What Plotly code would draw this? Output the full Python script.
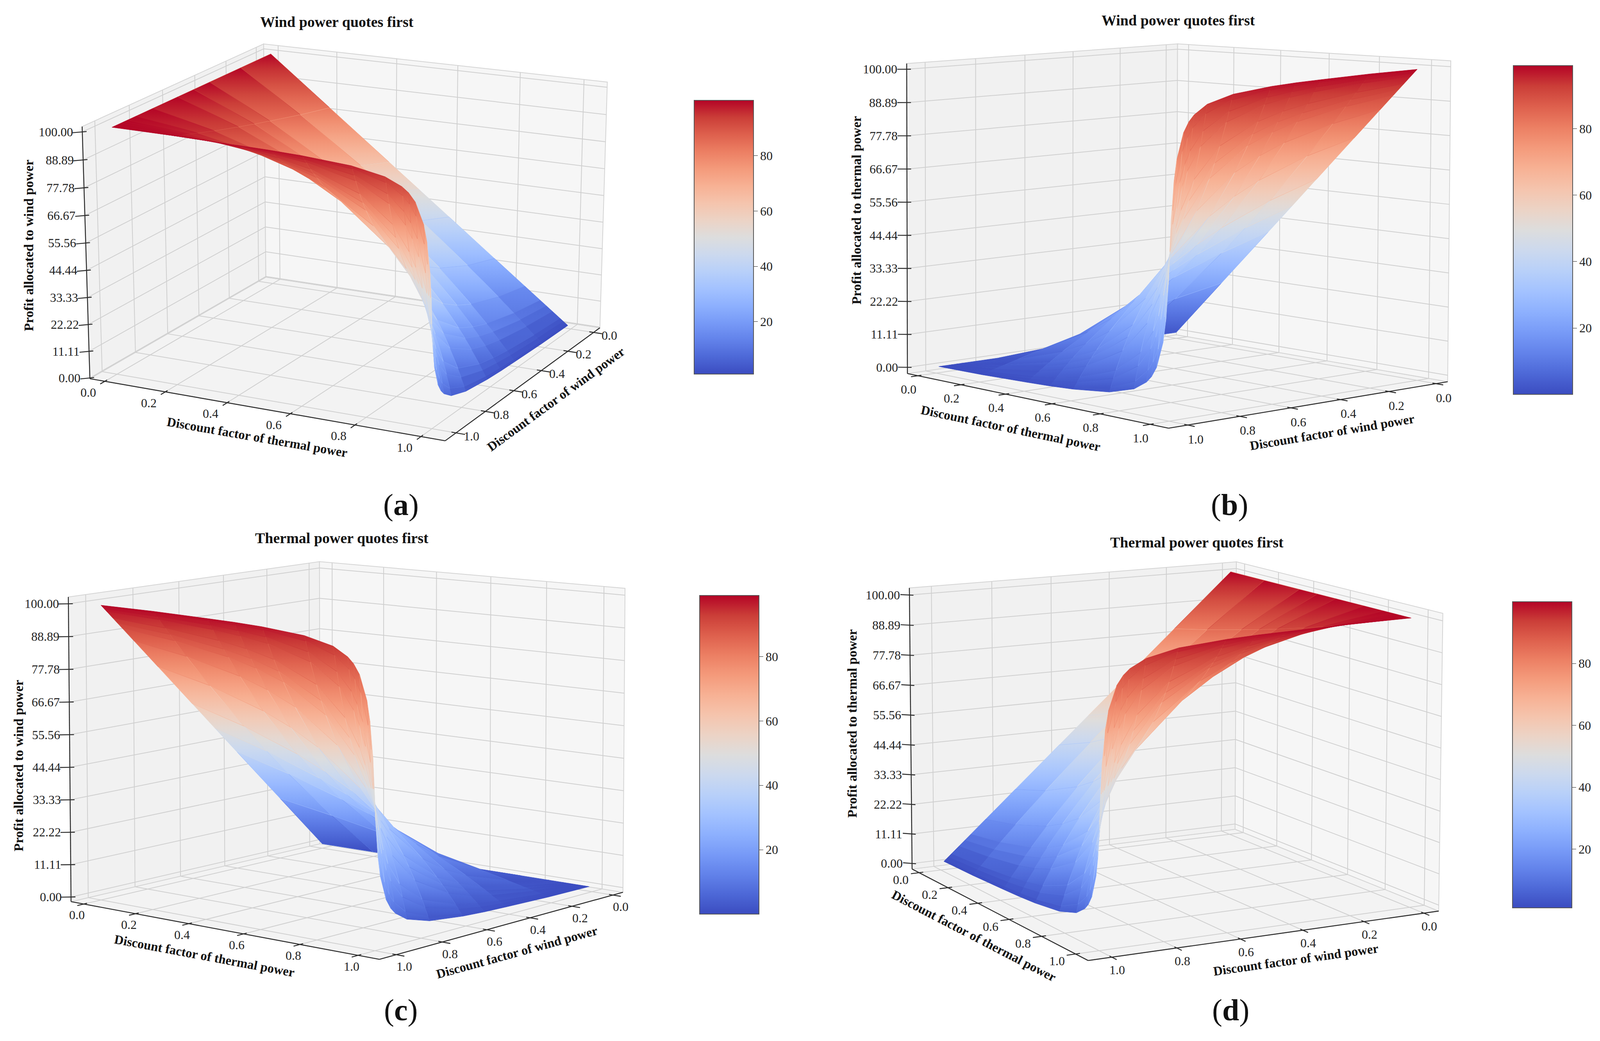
import numpy as np
import plotly.graph_objects as go

FIG_W, FIG_H = 4124, 2666

# discount factors sampled on both axes
thermal_df = [0.0, 0.2, 0.4, 0.5, 0.6, 0.75, 0.85, 0.9, 0.92, 0.94, 0.965, 0.975, 0.985, 0.99]
wind_df = [0.0, 0.2, 0.4, 0.5, 0.6, 0.75, 0.85, 0.9, 0.92, 0.94, 0.965, 0.975, 0.985, 0.99]

# profit shares, rows = wind discount factor, columns = thermal discount factor
wf_wind_profit = [
    [100.0, 80.0, 60.0, 50.0, 40.0, 25.0, 15.0, 10.0, 8.0, 6.0, 3.5, 2.5, 1.5, 1.0],
    [100.0, 83.3, 65.2, 55.6, 45.5, 29.4, 18.1, 12.2, 9.8, 7.4, 4.3, 3.1, 1.9, 1.2],
    [100.0, 87.0, 71.4, 62.5, 52.6, 35.7, 22.7, 15.6, 12.7, 9.6, 5.7, 4.1, 2.5, 1.7],
    [100.0, 88.9, 75.0, 66.7, 57.1, 40.0, 26.1, 18.2, 14.8, 11.3, 6.8, 4.9, 3.0, 2.0],
    [100.0, 90.9, 78.9, 71.4, 62.5, 45.5, 30.6, 21.7, 17.9, 13.8, 8.3, 6.0, 3.7, 2.5],
    [100.0, 94.1, 85.7, 80.0, 72.7, 57.1, 41.4, 30.8, 25.8, 20.3, 12.7, 9.3, 5.7, 3.9],
    [100.0, 96.4, 90.9, 87.0, 81.6, 69.0, 54.1, 42.6, 36.7, 29.9, 19.5, 14.6, 9.2, 6.3],
    [100.0, 97.6, 93.8, 90.9, 87.0, 76.9, 63.8, 52.6, 46.5, 39.0, 26.6, 20.4, 13.2, 9.2],
    [100.0, 98.0, 94.9, 92.6, 89.3, 80.6, 68.8, 58.1, 52.1, 44.4, 31.2, 24.3, 16.0, 11.2],
    [100.0, 98.5, 96.2, 94.3, 91.7, 84.7, 74.6, 64.9, 59.2, 51.5, 37.7, 29.9, 20.2, 14.4],
    [100.0, 99.1, 97.7, 96.6, 95.0, 90.5, 83.5, 76.1, 71.3, 64.6, 50.9, 42.3, 30.3, 22.4],
    [100.0, 99.4, 98.4, 97.6, 96.4, 93.0, 87.6, 81.6, 77.7, 71.9, 59.2, 50.6, 37.9, 28.8],
    [100.0, 99.6, 99.0, 98.5, 97.8, 95.7, 92.2, 88.1, 85.3, 81.0, 70.7, 63.1, 50.4, 40.2],
    [100.0, 99.8, 99.3, 99.0, 98.5, 97.1, 94.6, 91.7, 89.7, 86.5, 78.4, 71.9, 60.4, 50.3],
]
wf_thermal_profit = [
    [0.0, 20.0, 40.0, 50.0, 60.0, 75.0, 85.0, 90.0, 92.0, 94.0, 96.5, 97.5, 98.5, 99.0],
    [0.0, 16.7, 34.8, 44.4, 54.5, 70.6, 81.9, 87.8, 90.2, 92.6, 95.7, 96.9, 98.1, 98.8],
    [0.0, 13.0, 28.6, 37.5, 47.4, 64.3, 77.3, 84.4, 87.3, 90.4, 94.3, 95.9, 97.5, 98.3],
    [0.0, 11.1, 25.0, 33.3, 42.9, 60.0, 73.9, 81.8, 85.2, 88.7, 93.2, 95.1, 97.0, 98.0],
    [0.0, 9.1, 21.1, 28.6, 37.5, 54.5, 69.4, 78.3, 82.1, 86.2, 91.7, 94.0, 96.3, 97.5],
    [0.0, 5.9, 14.3, 20.0, 27.3, 42.9, 58.6, 69.2, 74.2, 79.7, 87.3, 90.7, 94.3, 96.1],
    [0.0, 3.6, 9.1, 13.0, 18.4, 31.0, 45.9, 57.4, 63.3, 70.1, 80.5, 85.4, 90.8, 93.7],
    [0.0, 2.4, 6.2, 9.1, 13.0, 23.1, 36.2, 47.4, 53.5, 61.0, 73.4, 79.6, 86.8, 90.8],
    [0.0, 2.0, 5.1, 7.4, 10.7, 19.4, 31.2, 41.9, 47.9, 55.6, 68.8, 75.7, 84.0, 88.8],
    [0.0, 1.5, 3.8, 5.7, 8.3, 15.3, 25.4, 35.1, 40.8, 48.5, 62.3, 70.1, 79.8, 85.6],
    [0.0, 0.9, 2.3, 3.4, 5.0, 9.5, 16.5, 23.9, 28.7, 35.4, 49.1, 57.7, 69.7, 77.6],
    [0.0, 0.6, 1.6, 2.4, 3.6, 7.0, 12.4, 18.4, 22.3, 28.1, 40.8, 49.4, 62.1, 71.2],
    [0.0, 0.4, 1.0, 1.5, 2.2, 4.3, 7.8, 11.9, 14.7, 19.0, 29.3, 36.9, 49.6, 59.8],
    [0.0, 0.2, 0.7, 1.0, 1.5, 2.9, 5.4, 8.3, 10.3, 13.5, 21.6, 28.1, 39.6, 49.7],
]
tf_wind_profit = [
    [0.0, 0.0, 0.0, 0.0, 0.0, 0.0, 0.0, 0.0, 0.0, 0.0, 0.0, 0.0, 0.0, 0.0],
    [20.0, 16.7, 13.0, 11.1, 9.1, 5.9, 3.6, 2.4, 2.0, 1.5, 0.9, 0.6, 0.4, 0.2],
    [40.0, 34.8, 28.6, 25.0, 21.1, 14.3, 9.1, 6.2, 5.1, 3.8, 2.3, 1.6, 1.0, 0.7],
    [50.0, 44.4, 37.5, 33.3, 28.6, 20.0, 13.0, 9.1, 7.4, 5.7, 3.4, 2.4, 1.5, 1.0],
    [60.0, 54.5, 47.4, 42.9, 37.5, 27.3, 18.4, 13.0, 10.7, 8.3, 5.0, 3.6, 2.2, 1.5],
    [75.0, 70.6, 64.3, 60.0, 54.5, 42.9, 31.0, 23.1, 19.4, 15.3, 9.5, 7.0, 4.3, 2.9],
    [85.0, 81.9, 77.3, 73.9, 69.4, 58.6, 45.9, 36.2, 31.2, 25.4, 16.5, 12.4, 7.8, 5.4],
    [90.0, 87.8, 84.4, 81.8, 78.3, 69.2, 57.4, 47.4, 41.9, 35.1, 23.9, 18.4, 11.9, 8.3],
    [92.0, 90.2, 87.3, 85.2, 82.1, 74.2, 63.3, 53.5, 47.9, 40.8, 28.7, 22.3, 14.7, 10.3],
    [94.0, 92.6, 90.4, 88.7, 86.2, 79.7, 70.1, 61.0, 55.6, 48.5, 35.4, 28.1, 19.0, 13.5],
    [96.5, 95.7, 94.3, 93.2, 91.7, 87.3, 80.5, 73.4, 68.8, 62.3, 49.1, 40.8, 29.3, 21.6],
    [97.5, 96.9, 95.9, 95.1, 94.0, 90.7, 85.4, 79.6, 75.7, 70.1, 57.7, 49.4, 36.9, 28.1],
    [98.5, 98.1, 97.5, 97.0, 96.3, 94.3, 90.8, 86.8, 84.0, 79.8, 69.7, 62.1, 49.6, 39.6],
    [99.0, 98.8, 98.3, 98.0, 97.5, 96.1, 93.7, 90.8, 88.8, 85.6, 77.6, 71.2, 59.8, 49.7],
]
tf_thermal_profit = [
    [100.0, 100.0, 100.0, 100.0, 100.0, 100.0, 100.0, 100.0, 100.0, 100.0, 100.0, 100.0, 100.0, 100.0],
    [80.0, 83.3, 87.0, 88.9, 90.9, 94.1, 96.4, 97.6, 98.0, 98.5, 99.1, 99.4, 99.6, 99.8],
    [60.0, 65.2, 71.4, 75.0, 78.9, 85.7, 90.9, 93.8, 94.9, 96.2, 97.7, 98.4, 99.0, 99.3],
    [50.0, 55.6, 62.5, 66.7, 71.4, 80.0, 87.0, 90.9, 92.6, 94.3, 96.6, 97.6, 98.5, 99.0],
    [40.0, 45.5, 52.6, 57.1, 62.5, 72.7, 81.6, 87.0, 89.3, 91.7, 95.0, 96.4, 97.8, 98.5],
    [25.0, 29.4, 35.7, 40.0, 45.5, 57.1, 69.0, 76.9, 80.6, 84.7, 90.5, 93.0, 95.7, 97.1],
    [15.0, 18.1, 22.7, 26.1, 30.6, 41.4, 54.1, 63.8, 68.8, 74.6, 83.5, 87.6, 92.2, 94.6],
    [10.0, 12.2, 15.6, 18.2, 21.7, 30.8, 42.6, 52.6, 58.1, 64.9, 76.1, 81.6, 88.1, 91.7],
    [8.0, 9.8, 12.7, 14.8, 17.9, 25.8, 36.7, 46.5, 52.1, 59.2, 71.3, 77.7, 85.3, 89.7],
    [6.0, 7.4, 9.6, 11.3, 13.8, 20.3, 29.9, 39.0, 44.4, 51.5, 64.6, 71.9, 81.0, 86.5],
    [3.5, 4.3, 5.7, 6.8, 8.3, 12.7, 19.5, 26.6, 31.2, 37.7, 50.9, 59.2, 70.7, 78.4],
    [2.5, 3.1, 4.1, 4.9, 6.0, 9.3, 14.6, 20.4, 24.3, 29.9, 42.3, 50.6, 63.1, 71.9],
    [1.5, 1.9, 2.5, 3.0, 3.7, 5.7, 9.2, 13.2, 16.0, 20.2, 30.3, 37.9, 50.4, 60.4],
    [1.0, 1.2, 1.7, 2.0, 2.5, 3.9, 6.3, 9.2, 11.2, 14.4, 22.4, 28.8, 40.2, 50.3],
]

df_ticks = [0.0, 0.2, 0.4, 0.6, 0.8, 1.0]
profit_ticks = [0.0, 11.11, 22.22, 33.33, 44.44, 55.56, 66.67, 77.78, 88.89, 100.0]
cbar_ticks = [20, 40, 60, 80]

# matplotlib "coolwarm"
COOLWARM = [
    (0.0, (59, 76, 192)), (0.0625, (77, 104, 215)), (0.125, (98, 130, 234)),
    (0.1875, (119, 154, 247)), (0.25, (141, 176, 254)), (0.3125, (163, 194, 255)),
    (0.375, (184, 208, 249)), (0.4375, (204, 217, 238)), (0.5, (221, 221, 221)),
    (0.5625, (236, 211, 197)), (0.625, (245, 196, 173)), (0.6875, (247, 177, 148)),
    (0.75, (244, 154, 123)), (0.8125, (236, 127, 99)), (0.875, (222, 96, 77)),
    (0.9375, (203, 62, 56)), (1.0, (180, 4, 38)),
]
coolwarm_scale = [[p, "rgb(%d,%d,%d)" % c] for p, c in COOLWARM]


def cw(v):
    v = float(np.clip(v, 0.0, 1.0))
    for (p0, c0), (p1, c1) in zip(COOLWARM[:-1], COOLWARM[1:]):
        if v <= p1:
            a = (v - p0) / (p1 - p0)
            return "rgb(%d,%d,%d)" % tuple(int(round(c0[k] + (c1[k] - c0[k]) * a)) for k in range(3))
    return "rgb(%d,%d,%d)" % COOLWARM[-1][1]


FONT = "Liberation Serif"
T_BOX = (-0.05, 1.072)
W_BOX = (-0.05, 1.072)

# box corners in unit coords: (thermal lo->hi, wind hi->lo, profit lo->hi)
BOX_UNIT = [(0, 0, 0), (1, 0, 0), (1, 1, 0), (0, 1, 0), (0, 0, 1), (1, 1, 1), (0, 1, 1)]

# per panel view: where the 3d box corners sit on the page (px, top-down)
panels = [
    dict(z=wf_wind_profit, title="Wind power quotes first", ztitle="Profit allocated to wind power",
         corners=[(222, 959), (1131, 1124), (1528, 827), (673, 706), (203, 316), (1547, 204), (666, 103)],
         zbox=(-0.3, 102.1), azim=25, elev=21,
         xlab=(-42, 28), ylab=(40, 8), xtit=(-26, 71), ytit=(86, 38), ztit=(-146, -18),
         cb=dict(x=0.429, y=0.775, len=0.263), tpos=(854, 48), tag="a", tagpos=(1018, 1284)),
    dict(z=wf_thermal_profit, title="Wind power quotes first", ztitle="Profit allocated to thermal power",
         corners=[(2320, 954), (2976, 1089), (3703, 963), (3001, 850), (2315, 149), (3708, 154), (3003, 104)],
         zbox=(-2.1, 101.9), azim=47, elev=10,
         xlab=(-24, 35), ylab=(20, 36), xtit=(-70, 70), ytit=(62, 70), ztit=(-129, -21),
         cb=dict(x=0.9375, y=0.782, len=0.316), tpos=(3008, 44), tag="b", tagpos=(3139, 1284)),
    dict(z=tf_wind_profit, title="Thermal power quotes first", ztitle="Profit allocated to wind power",
         corners=[(175, 2301), (961, 2451), (1588, 2273), (811, 2155), (168, 1519), (1593, 1501), (808, 1430)],
         zbox=(-1.6, 102.3), azim=40, elev=12,
         xlab=(-17, 28), ylab=(20, 30), xtit=(-53, 65), ytit=(40, 68), ztit=(-130, 42),
         cb=dict(x=0.4324, y=0.278, len=0.306), tpos=(867, 1370), tag="c", tagpos=(1018, 2578)),
    dict(z=tf_thermal_profit, title="Thermal power quotes first", ztitle="Profit allocated to thermal power",
         corners=[(2330, 2223), (2772, 2450), (3678, 2321), (3153, 2116), (2322, 1494), (3688, 1569), (3153, 1429)],
         zbox=(-2.1, 102.6), azim=62, elev=15,
         xlab=(-47, 18), ylab=(14, 33), xtit=(-67, 54), ytit=(83, 61), ztit=(-150, -13),
         cb=dict(x=0.937, y=0.278, len=0.294), tpos=(3056, 1381), tag="d", tagpos=(3142, 2578)),
]


def fit_camera(screen_pts):
    """Projective camera (DLT) mapping the unit box corners onto the page."""
    pts = np.array(screen_pts, float)
    mu = pts.mean(axis=0)
    sc = np.sqrt(2) / np.mean(np.linalg.norm(pts - mu, axis=1))
    norm = np.array([[sc, 0, -sc * mu[0]], [0, sc, -sc * mu[1]], [0, 0, 1]])
    rows = []
    for (X, Y, Z), (u, v) in zip(BOX_UNIT, (pts - mu) * sc):
        rows.append([X, Y, Z, 1, 0, 0, 0, 0, -u * X, -u * Y, -u * Z, -u])
        rows.append([0, 0, 0, 0, X, Y, Z, 1, -v * X, -v * Y, -v * Z, -v])
    _, _, vt = np.linalg.svd(np.array(rows, float))
    cam = np.linalg.inv(norm) @ vt[-1].reshape(3, 4)
    if cam[2] @ np.array([0.5, 0.5, 0.5, 1.0]) < 0:
        cam = -cam
    return cam


def make_projector(p):
    cam = fit_camera(p["corners"])
    z_lo, z_hi = p["zbox"]
    phi, el = np.radians(p["azim"]), np.radians(p["elev"])
    toward_eye = (np.sin(phi) * np.cos(el), -np.cos(phi) * np.cos(el), 0.75 * np.sin(el))

    def proj(t, w, z):
        ut = (np.asarray(t, float) - T_BOX[0]) / (T_BOX[1] - T_BOX[0])
        uw = (W_BOX[1] - np.asarray(w, float)) / (W_BOX[1] - W_BOX[0])
        uz = (np.asarray(z, float) - z_lo) / (z_hi - z_lo)
        h = [cam[k, 0] * ut + cam[k, 1] * uw + cam[k, 2] * uz + cam[k, 3] for k in range(3)]
        sx, sy = h[0] / h[2], h[1] / h[2]
        depth = toward_eye[0] * ut + toward_eye[1] * uw + toward_eye[2] * uz
        return sx, FIG_H - sy, depth

    return proj


def lines_trace(proj, segs, color, width):
    xs, ys = [], []
    for a, b in segs:
        x0, y0, _ = proj(*a)
        x1, y1, _ = proj(*b)
        xs += [float(x0), float(x1), None]
        ys += [float(y0), float(y1), None]
    return go.Scatter(x=xs, y=ys, mode="lines", line=dict(color=color, width=width),
                      hoverinfo="skip", showlegend=False)


def pane_trace(proj, pts, fill):
    xy = [proj(*q)[:2] for q in pts]
    xs = [float(a) for a, _ in xy] + [float(xy[0][0])]
    ys = [float(b) for _, b in xy] + [float(xy[0][1])]
    return go.Scatter(x=xs, y=ys, mode="lines", fill="toself", fillcolor=fill,
                      line=dict(color="#d4d4d4", width=2), hoverinfo="skip", showlegend=False)


fig = go.Figure()
annotations = []
tick_font = dict(family=FONT, size=32, color="#222")
axis_title_font = dict(family=FONT, size=33, color="#111")
z_title_font = dict(family=FONT, size=34, color="#111")

for p in panels:
    proj = make_projector(p)
    t_lo, t_hi = T_BOX
    w_lo, w_hi = W_BOX
    z_lo, z_hi = p["zbox"]
    rt, rw = t_hi - t_lo, w_hi - w_lo

    # panes
    fig.add_trace(pane_trace(proj, [(t_lo, w_lo, z_lo), (t_hi, w_lo, z_lo), (t_hi, w_hi, z_lo), (t_lo, w_hi, z_lo)], "#f3f3f3"))
    fig.add_trace(pane_trace(proj, [(t_lo, w_hi, z_lo), (t_lo, w_lo, z_lo), (t_lo, w_lo, z_hi), (t_lo, w_hi, z_hi)], "#f1f1f1"))
    fig.add_trace(pane_trace(proj, [(t_lo, w_lo, z_lo), (t_hi, w_lo, z_lo), (t_hi, w_lo, z_hi), (t_lo, w_lo, z_hi)], "#f6f6f6"))

    # grid
    grid = []
    for t in df_ticks:
        grid.append(((t, w_lo, z_lo), (t, w_hi, z_lo)))
        grid.append(((t, w_lo, z_lo), (t, w_lo, z_hi)))
    for w in df_ticks:
        grid.append(((t_lo, w, z_lo), (t_hi, w, z_lo)))
        grid.append(((t_lo, w, z_lo), (t_lo, w, z_hi)))
    for zt in profit_ticks:
        grid.append(((t_lo, w_lo, zt), (t_lo, w_hi, zt)))
        grid.append(((t_lo, w_lo, zt), (t_hi, w_lo, zt)))
    fig.add_trace(lines_trace(proj, grid, "#cfcfcf", 2))

    # axis lines and tick marks
    axes = [((t_lo, w_hi, z_lo), (t_hi, w_hi, z_lo)),
            ((t_hi, w_hi, z_lo), (t_hi, w_lo, z_lo)),
            ((t_lo, w_hi, z_lo), (t_lo, w_hi, z_hi))]
    for t in df_ticks:
        axes.append(((t, w_hi - 0.012 * rw, z_lo), (t, w_hi + 0.024 * rw, z_lo)))
    for w in df_ticks:
        axes.append(((t_hi - 0.012 * rt, w, z_lo), (t_hi + 0.024 * rt, w, z_lo)))
    for zt in profit_ticks:
        axes.append(((t_lo + 0.008 * rt, w_hi - 0.008 * rw, zt), (t_lo - 0.018 * rt, w_hi + 0.018 * rw, zt)))
    fig.add_trace(lines_trace(proj, axes, "#2a2a2a", 2.4))

    # surface, painted back to front
    zg = np.array(p["z"], float)
    tt, ww = np.meshgrid(thermal_df, wind_df)
    sx, sy, dep = proj(tt, ww, zg)
    zmin, zmax = zg.min(), zg.max()
    quads = []
    for i in range(zg.shape[0] - 1):
        for j in range(zg.shape[1] - 1):
            ids = [(i, j), (i, j + 1), (i + 1, j + 1), (i + 1, j)]
            quads.append((np.mean([dep[a] for a in ids]),
                          [float(sx[a]) for a in ids], [float(sy[a]) for a in ids], [zg[a] for a in ids]))
    quads.sort(key=lambda q: q[0])
    for _, qx, qy, qz in quads:
        ys_arr, zs_arr = np.array(qy), np.array(qz)
        ylo, yhi = ys_arr.min(), ys_arr.max()
        if yhi - ylo > 0.5:
            slope, icpt = np.polyfit(ys_arr, zs_arr, 1)
            z_bot, z_top = icpt + slope * ylo, icpt + slope * yhi
        else:
            z_bot = z_top = zs_arr.mean()
        z_bot, z_top = np.clip([z_bot, z_top], zs_arr.min(), zs_arr.max())
        stops = [[k / 4, cw((z_bot + (z_top - z_bot) * k / 4 - zmin) / (zmax - zmin))] for k in range(5)]
        fig.add_trace(go.Scatter(
            x=qx + [qx[0]], y=qy + [qy[0]], mode="lines", fill="toself",
            fillgradient=dict(type="vertical", start=float(ylo), stop=float(yhi), colorscale=stops),
            line=dict(color=cw((zs_arr.mean() - zmin) / (zmax - zmin)), width=1),
            hoverinfo="skip", showlegend=False,
        ))

    # colour bar carried by the surface vertices
    fig.add_trace(go.Scatter(
        x=sx.ravel(), y=sy.ravel(), mode="markers", hoverinfo="skip", showlegend=False,
        marker=dict(size=1, opacity=0, color=zg.ravel(), colorscale=coolwarm_scale,
                    cmin=zmin, cmax=zmax, showscale=True,
                    colorbar=dict(x=p["cb"]["x"], xanchor="left", y=p["cb"]["y"], yanchor="middle",
                                  len=p["cb"]["len"], lenmode="fraction", thickness=152,
                                  tickvals=cbar_ticks, ticks="outside", ticklen=10, tickcolor="#222",
                                  tickfont=tick_font, outlinecolor="#555", outlinewidth=2,
                                  xpad=0, ypad=0)),
    ))

    # tick labels
    for t in df_ticks:
        x0, y0, _ = proj(t, w_hi, z_lo)
        annotations.append(dict(x=float(x0) + p["xlab"][0], y=float(y0) - p["xlab"][1], text=f"{t:.1f}",
                                xref="x", yref="y", showarrow=False, font=tick_font,
                                xanchor="center", yanchor="middle"))
    for w in df_ticks:
        x0, y0, _ = proj(t_hi, w, z_lo)
        annotations.append(dict(x=float(x0) + p["ylab"][0], y=float(y0) - p["ylab"][1], text=f"{w:.1f}",
                                xref="x", yref="y", showarrow=False, font=tick_font,
                                xanchor="center", yanchor="middle"))
    for zt in profit_ticks:
        x0, y0, _ = proj(t_lo, w_hi, zt)
        annotations.append(dict(x=float(x0) - 22, y=float(y0), text=f"{zt:.2f}",
                                xref="x", yref="y", showarrow=False, font=tick_font,
                                xanchor="right", yanchor="middle"))

    # axis titles
    def edge_title(a, b, off, text):
        xa, ya, _ = proj(*a)
        xb, yb, _ = proj(*b)
        ang = np.degrees(np.arctan2(-(yb - ya), xb - xa))
        annotations.append(dict(x=float(xa + xb) / 2 + off[0], y=float(ya + yb) / 2 - off[1],
                                text=f"<b>{text}</b>", textangle=float(ang), xref="x", yref="y",
                                showarrow=False, font=axis_title_font, xanchor="center", yanchor="middle"))

    edge_title((t_lo, w_hi, z_lo), (t_hi, w_hi, z_lo), p["xtit"], "Discount factor of thermal power")
    edge_title((t_hi, w_hi, z_lo), (t_hi, w_lo, z_lo), p["ytit"], "Discount factor of wind power")
    xa, ya, _ = proj(t_lo, w_hi, z_lo)
    xb, yb, _ = proj(t_lo, w_hi, z_hi)
    annotations.append(dict(x=float(xa + xb) / 2 + p["ztit"][0], y=float(ya + yb) / 2 - p["ztit"][1],
                            text=f"<b>{p['ztitle']}</b>", textangle=-90, xref="x", yref="y",
                            showarrow=False, font=z_title_font, xanchor="center", yanchor="middle"))

    # panel title and tag
    annotations.append(dict(x=p["tpos"][0], y=FIG_H - p["tpos"][1], text=f"<b>{p['title']}</b>",
                            xref="x", yref="y", showarrow=False, xanchor="center", yanchor="middle",
                            font=dict(family=FONT, size=38, color="#111")))
    annotations.append(dict(x=p["tagpos"][0], y=FIG_H - p["tagpos"][1], text=f"(<b>{p['tag']}</b>)",
                            xref="x", yref="y", showarrow=False, xanchor="center", yanchor="middle",
                            font=dict(family=FONT, size=78, color="#111")))

fig.update_layout(
    width=FIG_W,
    height=FIG_H,
    margin=dict(l=0, r=0, t=0, b=0),
    paper_bgcolor="white",
    plot_bgcolor="white",
    showlegend=False,
    annotations=annotations,
    xaxis=dict(range=[0, FIG_W], visible=False, fixedrange=True),
    yaxis=dict(range=[0, FIG_H], visible=False, fixedrange=True),
)

fig.write_html("out.html")
